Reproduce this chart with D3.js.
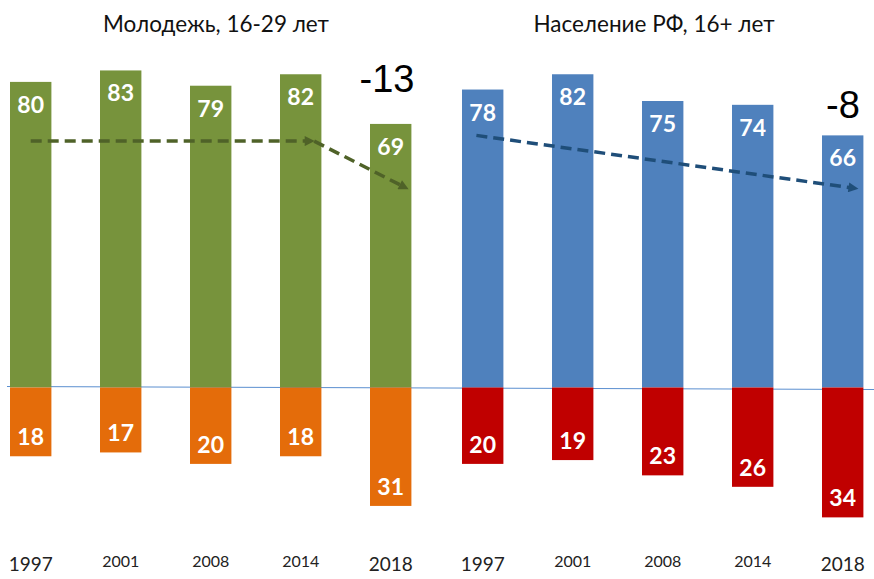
<!DOCTYPE html>
<html>
<head>
<meta charset="utf-8">
<script src="https://cdn.jsdelivr.net/npm/d3@7"></script>
<style>
  body { margin: 0; background: #fff; }
  text { font-family: Lato, "Open Sans", sans-serif; }
</style>
</head>
<body>
<div id="chart"></div>
<script>
var svgWidth = 874;
var svgHeight = 579;

// data
var years = ["1997", "2001", "2008", "2014", "2018"];
var youthYes = [80, 83, 79, 82, 69];
var youthNo = [18, 17, 20, 18, 31];
var allYes = [78, 82, 75, 74, 66];
var allNo = [20, 19, 23, 26, 34];
var titles = ["Молодежь, 16-29 лет", "Население РФ, 16+ лет"];
var changes = ["-13", "-8"];
// trend arrows: [year index, value]
var youthTrend = [[[0, 64.5], [3.1, 64.5]], [[3.15, 64.5], [4.15, 52.5]]];
var allTrend = [[[-0.07, 66], [4.12, 52.2]]];

var svg = d3.select("#chart")
  .append("svg")
  .attr("width", svgWidth)
  .attr("height", svgHeight);

var yScale = d3.scaleLinear()
  .domain([-40, 90])
  .range([387.5 + 40 * 3.82, 387.5 - 90 * 3.82]);

var defs = svg.append("defs");
function addMarker(id, color) {
  defs.append("marker")
    .attr("id", id)
    .attr("viewBox", "0 0 10 10")
    .attr("refX", 5)
    .attr("refY", 5)
    .attr("markerUnits", "userSpaceOnUse")
    .attr("markerWidth", 11)
    .attr("markerHeight", 10)
    .attr("orient", "auto")
    .append("path")
    .attr("d", "M0,0 L10,5 L0,10 Z")
    .attr("fill", color);
}
addMarker("arrowGreen", "#4f6228");
addMarker("arrowBlue", "#1f4e79");

// zero line
svg.append("line")
  .attr("x1", 7)
  .attr("x2", svgWidth)
  .attr("y1", yScale(0) - 1)
  .attr("y2", yScale(0) + 2)
  .attr("stroke", "#5b8fd0")
  .attr("stroke-width", 1);

var panels = [
  {start: 10, yes: youthYes, no: youthNo, yesColor: "#77933c", noColor: "#e46c0a",
   title: titles[0], change: changes[0], trend: youthTrend, arrow: "arrowGreen", arrowColor: "#4f6228",
   titleX: 216, changeX: 387, changeY: 92},
  {start: 462, yes: allYes, no: allNo, yesColor: "#4f81bd", noColor: "#c00000",
   title: titles[1], change: changes[1], trend: allTrend, arrow: "arrowBlue", arrowColor: "#1f4e79",
   titleX: 654, changeX: 843, changeY: 118}
];

panels.forEach(function(p) {
  var xScale = d3.scaleBand()
    .domain(years)
    .range([p.start, p.start + 401.4])
    .paddingInner(0.54)
    .paddingOuter(0);

  var step = xScale.step();
  var x0 = xScale(years[0]) + xScale.bandwidth() / 2;
  var trendX = function(i) { return x0 + i * step; };

  var g = svg.append("g");

  // positive bars
  g.selectAll(".yes")
    .data(p.yes)
    .enter()
    .append("rect")
    .attr("x", (d, i) => xScale(years[i]))
    .attr("y", d => yScale(d))
    .attr("width", xScale.bandwidth())
    .attr("height", d => yScale(0) - yScale(d))
    .attr("fill", p.yesColor);

  // negative bars
  g.selectAll(".no")
    .data(p.no)
    .enter()
    .append("rect")
    .attr("x", (d, i) => xScale(years[i]))
    .attr("y", yScale(0))
    .attr("width", xScale.bandwidth())
    .attr("height", d => yScale(-d) - yScale(0))
    .attr("fill", p.noColor);

  // labels
  g.selectAll(".yesLabel")
    .data(p.yes)
    .enter()
    .append("text")
    .attr("x", (d, i) => xScale(years[i]) + xScale.bandwidth() / 2)
    .attr("y", d => yScale(d) + 31)
    .attr("text-anchor", "middle")
    .attr("font-size", 23)
    .attr("font-weight", "bold")
    .attr("fill", "#fff")
    .text(d => d);

  g.selectAll(".noLabel")
    .data(p.no)
    .enter()
    .append("text")
    .attr("x", (d, i) => xScale(years[i]) + xScale.bandwidth() / 2)
    .attr("y", d => yScale(-d) - 11)
    .attr("text-anchor", "middle")
    .attr("font-size", 23)
    .attr("font-weight", "bold")
    .attr("fill", "#fff")
    .text(d => d);

  // year labels
  g.selectAll(".year")
    .data(years)
    .enter()
    .append("text")
    .attr("x", d => xScale(d) + xScale.bandwidth() / 2)
    .attr("y", (d, i) => (i === 0 || i === 4) ? 571 : 567)
    .attr("text-anchor", "middle")
    .attr("font-size", (d, i) => (i === 0 || i === 4) ? 19 : 16)
    .attr("fill", "#222")
    .text(d => d);

  // trend arrows
  var line = d3.line()
    .x(d => trendX(d[0]))
    .y(d => yScale(d[1]));

  g.selectAll(".trend")
    .data(p.trend)
    .enter()
    .append("path")
    .attr("d", line)
    .attr("fill", "none")
    .attr("stroke", p.arrowColor)
    .attr("stroke-width", 3.5)
    .attr("stroke-dasharray", "11,6")
    .attr("marker-end", "url(#" + p.arrow + ")");

  // title
  svg.append("text")
    .attr("x", p.titleX)
    .attr("y", 32)
    .attr("text-anchor", "middle")
    .attr("font-size", 22.5)
    .attr("fill", "#111")
    .text(p.title);

  // change
  svg.append("text")
    .attr("x", p.changeX)
    .attr("y", p.changeY)
    .attr("text-anchor", "middle")
    .attr("font-size", 38)
    .style("font-family", "'Liberation Sans', Arial, sans-serif")
    .attr("fill", "#000")
    .text(p.change);
});
</script>
</body>
</html>
